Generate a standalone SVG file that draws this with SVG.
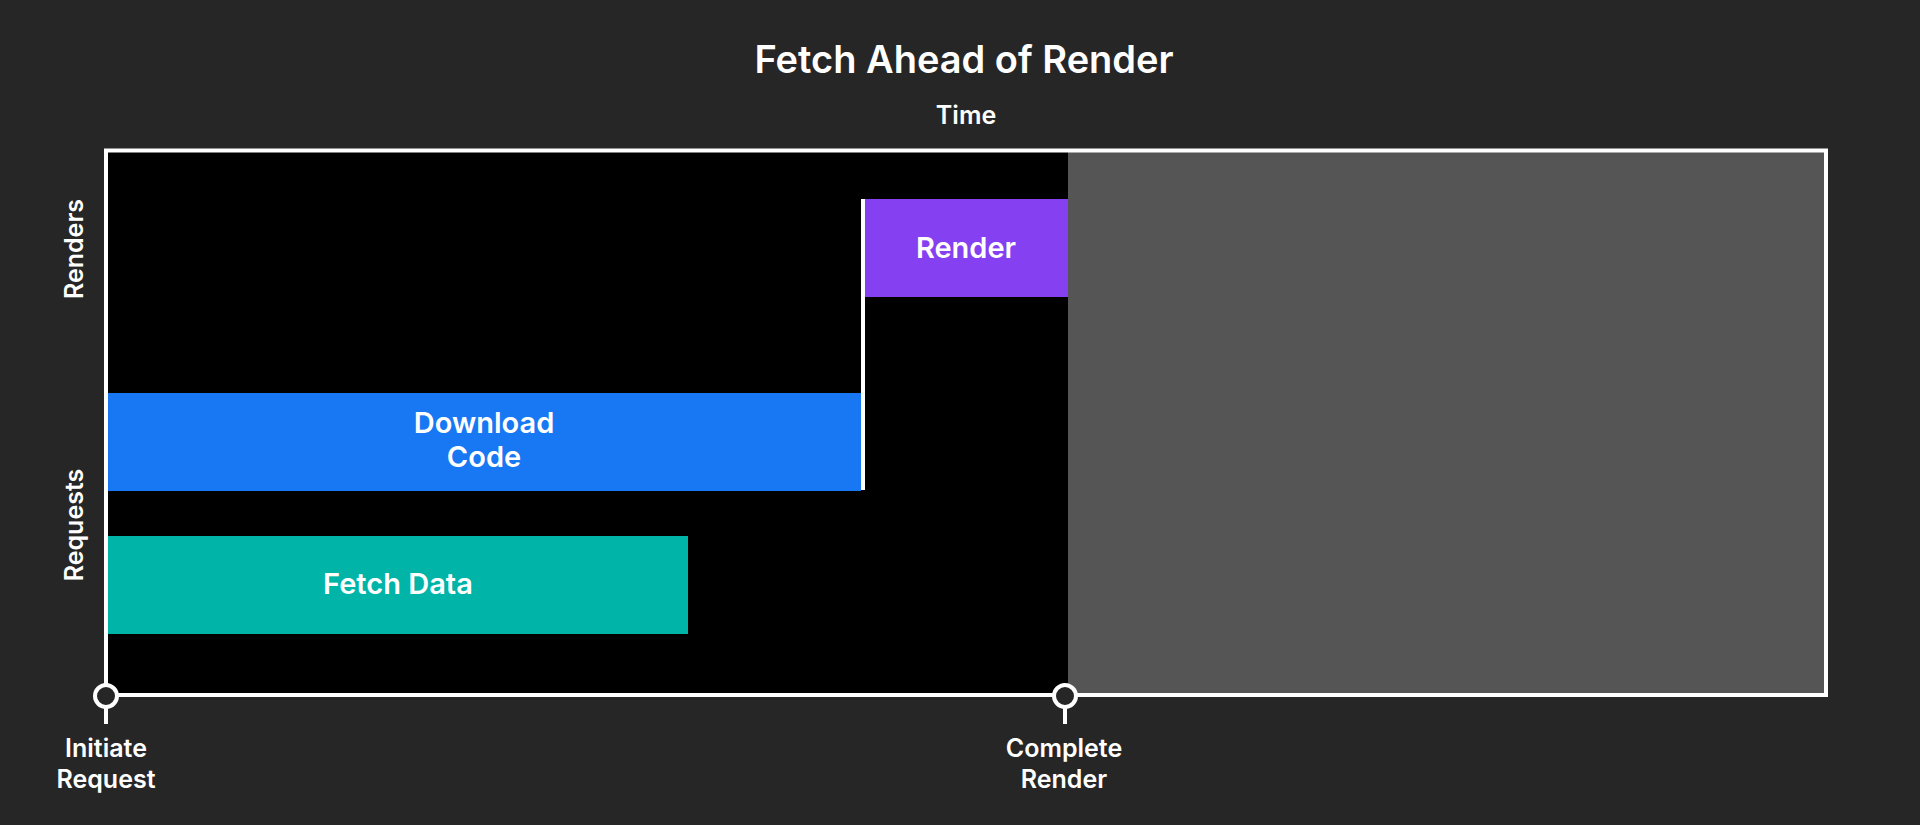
<svg xmlns="http://www.w3.org/2000/svg" width="1920" height="825" viewBox="0 0 1920 825">
<style>
text{font-family:Inter,"Liberation Sans",sans-serif;font-weight:600;fill:#ffffff;text-anchor:middle}
.t{font-size:38px}
.ax{font-size:25px}
.lb{font-size:29px}
.edge{stroke:#ffffff;stroke-width:4;fill:none}
</style>
<rect x="0" y="0" width="1920" height="825" fill="#262626"/>
<text class="t" x="964" y="73">Fetch Ahead of Render</text>
<text class="ax" x="966" y="124">Time</text>
<g id="chart">
<rect x="106" y="150.5" width="962" height="544.5" fill="#000000"/>
<rect x="1068" y="150.5" width="758" height="544.5" fill="#555555"/>
<rect x="106" y="150.5" width="1720" height="544.5" fill="none" stroke="#ffffff" stroke-width="4"/>
</g>
<text class="ax" transform="translate(83 249) rotate(-90)">Renders</text>
<text class="ax" transform="translate(83 525) rotate(-90)">Requests</text>
<g id="render">
<rect x="865" y="199" width="203" height="98" fill="#8540F2"/>
<text class="lb" x="966" y="258">Render</text>
</g>
<g id="download-code">
<rect x="108" y="393" width="753" height="98" fill="#1877F2"/>
<text class="lb" x="484" y="433">Download</text>
<text class="lb" x="484" y="467">Code</text>
</g>
<g id="fetch-data">
<rect x="108" y="536" width="580" height="98" fill="#00B4A7"/>
<text class="lb" x="398" y="594">Fetch Data</text>
</g>
<g id="connectors">
<line class="edge" x1="863" y1="199" x2="863" y2="490"/>
</g>
<g id="initiate-request">
<line class="edge" x1="106" y1="706" x2="106" y2="724"/>
<circle cx="106" cy="696" r="11" fill="#262626" stroke="#ffffff" stroke-width="4"/>
<text class="ax" x="106" y="757">Initiate</text>
<text class="ax" x="106" y="788">Request</text>
</g>
<g id="complete-render">
<line class="edge" x1="1065" y1="706" x2="1065" y2="724"/>
<circle cx="1065" cy="696" r="11" fill="#262626" stroke="#ffffff" stroke-width="4"/>
<text class="ax" x="1064" y="757">Complete</text>
<text class="ax" x="1064" y="788">Render</text>
</g>
</svg>
